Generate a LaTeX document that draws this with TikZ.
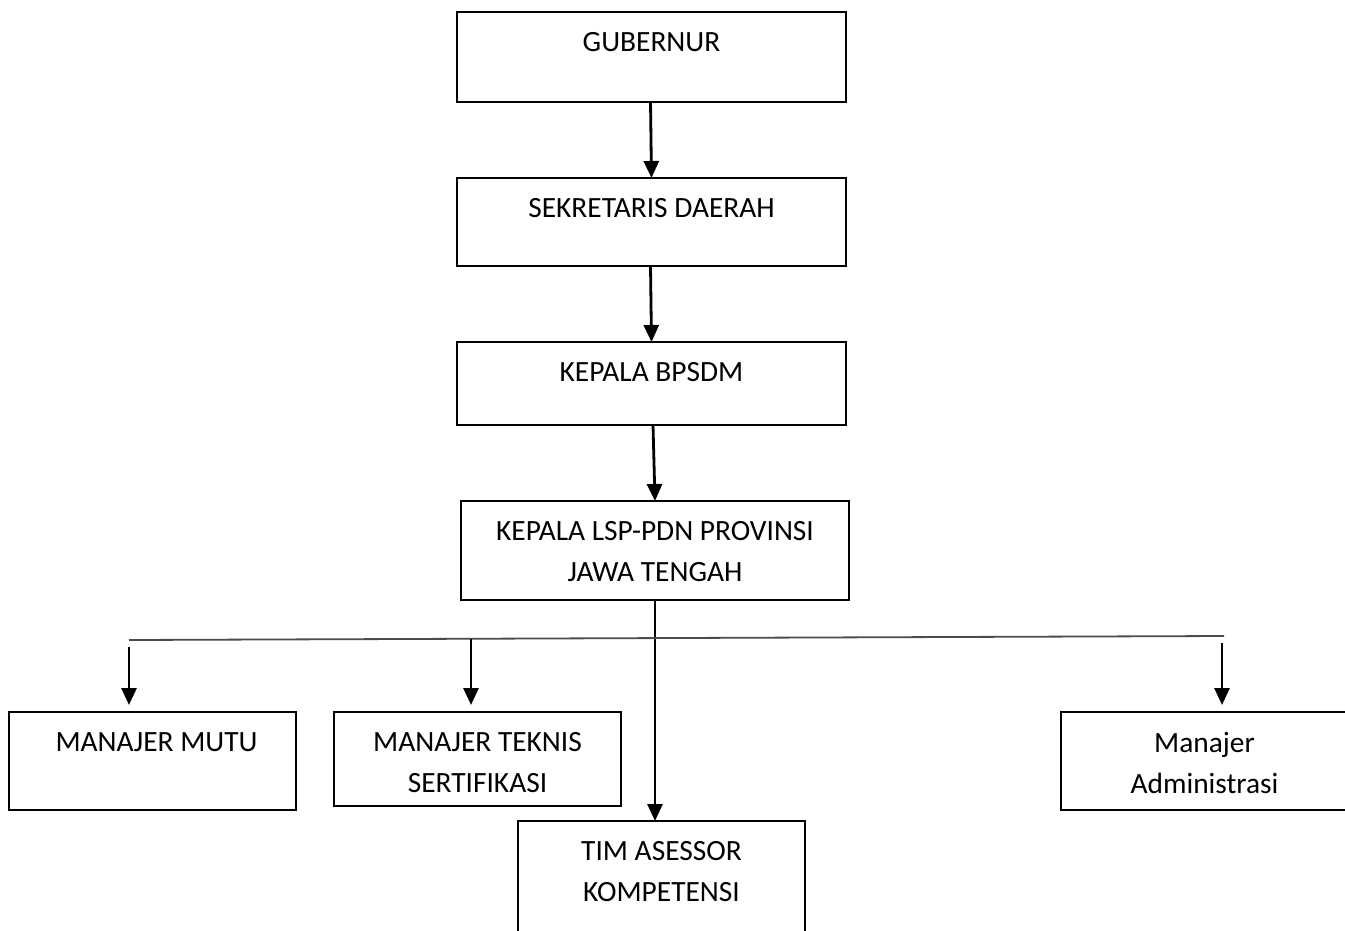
\documentclass[tikz,border=0pt]{standalone}
\usepackage{fontspec}
\setmainfont{Carlito}
\usetikzlibrary{arrows.meta}
\begin{document}
\begin{tikzpicture}[x=1pt,y=-1pt,
  box/.style={draw, line width=2.8pt, inner sep=0pt, outer sep=0pt},
  lbl/.style={anchor=north, yshift=-20.5pt, inner sep=0pt, align=center,
    font=\fontsize{29.4}{40.5}\selectfont},
  arr/.style={line width=2.8pt, -{Triangle[width=15pt,length=17pt]}},
  bar/.style={line width=1.8pt, draw=black!70}]
\clip (0,0) rectangle (1345,930);
\fill[white] (0,0) rectangle (1345,930);
% boxes
\node[box, minimum width=389pt, minimum height=90pt, label={[lbl]north:GUBERNUR}] (gub) at (651.5,57) {};
\node[box, minimum width=389pt, minimum height=88pt, label={[lbl]north:SEKRETARIS DAERAH}] (sek) at (651.5,222) {};
\node[box, minimum width=389pt, minimum height=83pt, label={[lbl]north:KEPALA BPSDM}] (bps) at (651.5,383.5) {};
\node[box, minimum width=388pt, minimum height=99pt, label={[lbl]north:{KEPALA LSP-PDN PROVINSI\\JAWA TENGAH}}] (lsp) at (655,550.5) {};
\node[box, minimum width=287pt, minimum height=98pt, label={[lbl,xshift=4pt]north:MANAJER MUTU}] (mutu) at (152.5,761) {};
\node[box, minimum width=287pt, minimum height=94pt, label={[lbl]north:{MANAJER TEKNIS\\SERTIFIKASI}}] (tek) at (477.5,759) {};
\node[box, minimum width=287pt, minimum height=114pt, label={[lbl]north:{TIM ASESSOR\\KOMPETENSI}}] (tim) at (661.5,878) {};
\node[box, minimum width=287pt, minimum height=98pt, label={[lbl]north:{Manajer\\Administrasi}}] (adm) at (1204.5,761) {};
% vertical chain
\draw[arr] ([xshift=-1pt]gub.south) -- (sek.north);
\draw[arr] ([xshift=-1pt]sek.south) -- (bps.north);
\draw[arr] ([xshift=1.5pt]bps.south) -- (lsp.north);
\draw[arr] (lsp.south) -- (lsp.south |- tim.north);
% horizontal bar
\coordinate (barL) at (129,640);
\coordinate (barR) at (1224,636);
\draw[bar] (barL) -- (barR);
\coordinate (aL) at (129,647);
\coordinate (aM) at (471,639);
\coordinate (aR) at (1222,643);
\draw[arr, shorten >=7pt] (aL) -- (aL |- mutu.north);
\draw[arr, shorten >=7pt] (aM) -- (aM |- tek.north);
\draw[arr, shorten >=7pt] (aR) -- (aR |- adm.north);
\end{tikzpicture}
\end{document}
